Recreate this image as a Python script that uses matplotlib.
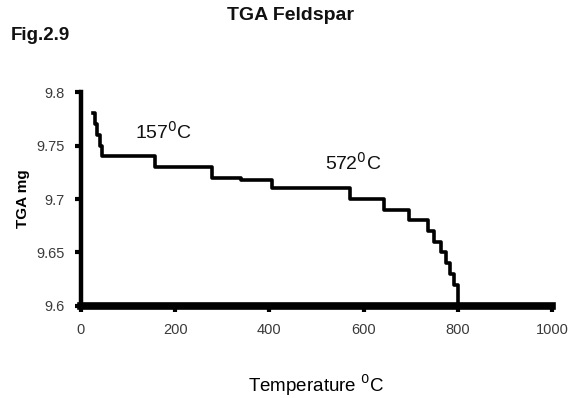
import matplotlib.pyplot as plt

plt.rcParams['font.family'] = ['Liberation Sans Narrow', 'Liberation Sans', 'DejaVu Sans']

# temperature (degC) where the mass drops to the next level
temperatura = [25, 30, 35, 40, 45, 157, 279, 340, 406, 572, 643, 696, 736,
               749, 764, 775, 783, 791, 800, 1000]
massa = [9.78, 9.77, 9.76, 9.75, 9.74, 9.73, 9.72, 9.718, 9.71, 9.70, 9.69,
         9.68, 9.67, 9.66, 9.65, 9.64, 9.63, 9.62, 9.60, 9.60]

xticks = [0, 200, 400, 600, 800, 1000]
yticks = [9.6, 9.65, 9.7, 9.75, 9.8]
ytick_labels = ['9.6', '9.65', '9.7', '9.75', '9.8']

fig = plt.figure(figsize=(5.72, 3.98), dpi=100)
ax = fig.add_axes([0.1416, 0.2312, 0.8234, 0.5376])

ax.step(temperatura, massa, where='post', color='black', linewidth=2.6,
        clip_on=False)

ax.set_xlim(0, 1000)
ax.set_ylim(9.6, 9.8)
ax.set_xticks(xticks)
ax.set_xticklabels([str(t) for t in xticks])
ax.set_yticks(yticks)
ax.set_yticklabels(ytick_labels)

for lado in ['top', 'right']:
    ax.spines[lado].set_visible(False)
ax.spines['left'].set_linewidth(3.2)
ax.spines['bottom'].set_linewidth(5.5)
ax.tick_params(axis='both', colors='black', labelcolor='#3a3a3a',
               labelsize=10.5, width=3, length=4, pad=8)

ax.text(115, 9.756, '157$^0$C', fontsize=14, color='#111111')
ax.text(519, 9.727, '572$^0$C', fontsize=14, color='#111111')

ax.set_ylabel('TGA mg', fontsize=11, fontweight='bold', labelpad=4)
ax.set_xlabel('Temperature $^0$C', fontsize=13.5, labelpad=26)

fig.text(0.507, 0.96, 'TGA Feldspar', fontsize=14, fontweight='bold',
         ha='center', va='center', color='#111111')
fig.text(0.018, 0.91, 'Fig.2.9', fontsize=13.5, fontweight='bold',
         ha='left', va='center', color='#111111')

fig.savefig('out.png', dpi=100)
